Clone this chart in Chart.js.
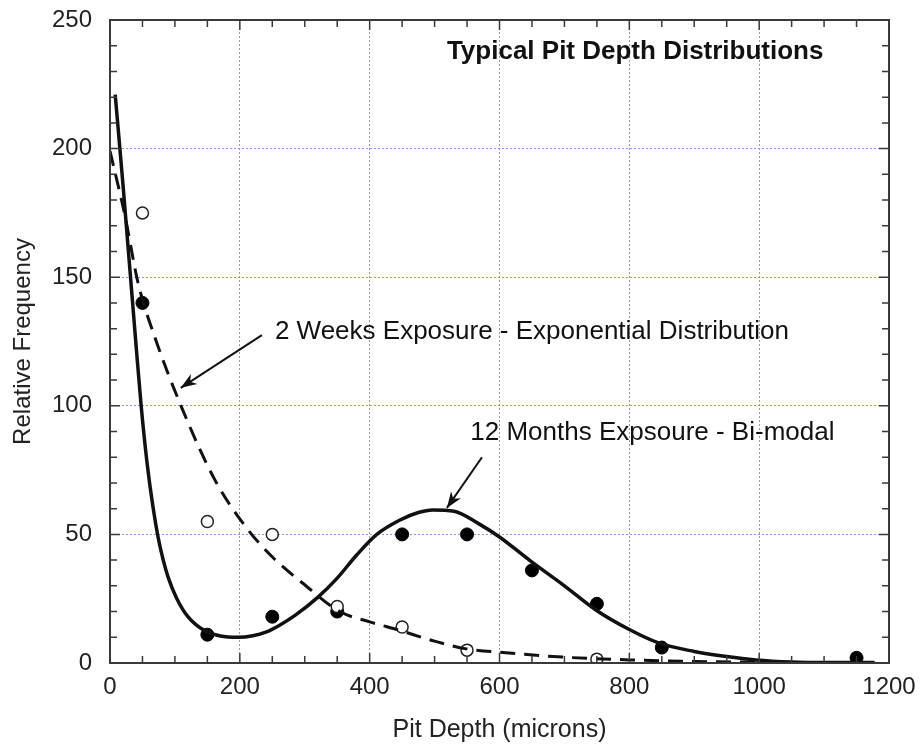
<!DOCTYPE html>
<html>
<head>
<meta charset="utf-8">
<script src="https://cdn.jsdelivr.net/npm/chart.js@4/dist/chart.umd.min.js"></script>
<style>
  html, body { margin: 0; padding: 0; background: #fff; }
  #wrap { width: 921px; height: 747px; }
</style>
</head>
<body>
<div id="wrap"><canvas id="chart" width="921" height="747"></canvas></div>
<script>
// --- data ---
const xTickLabels = [0, 200, 400, 600, 800, 1000, 1200];
const yTickLabels = [0, 50, 100, 150, 200, 250];

// 2 weeks exposure: measured points (open circles) and fitted exponential curve (dashed)
const weeksX = [50, 150, 250, 350, 450, 550, 750];
const weeksY = [175, 55, 50, 22, 14, 5, 1.5];
const expCurveX = [0, 23, 43, 70, 111, 162, 212, 251, 297, 354, 400, 446, 500, 549, 610, 697, 800, 900, 1000, 1100, 1180];
const expCurveY = [199, 174, 148, 126, 99, 71, 52, 41, 31, 20, 16, 12.7, 8.5, 5.5, 4, 2.3, 1.2, 0.6, 0.3, 0.15, 0.1];

// 12 months exposure: measured points (filled circles) and bi-modal curve (solid)
const monthsX = [50, 150, 250, 350, 450, 550, 650, 750, 850, 1150];
const monthsY = [140, 11, 18, 20, 50, 50, 36, 23, 6, 2];
const biCurveX = [8, 20, 30, 40, 48, 57, 66, 74, 82, 90, 103, 120, 146, 170, 197, 220, 240, 260, 285, 320, 350, 380, 411, 446, 475, 497, 530, 569, 600, 646, 700, 749, 800, 846, 900, 950, 995, 1050, 1100, 1177];
const biCurveY = [221, 186, 155, 124, 100, 78, 61, 49, 40, 33, 25, 18, 12.5, 10.5, 10, 10.6, 12, 14.5, 18.5, 25.5, 33, 42, 50, 55.5, 58.5, 59.5, 59, 54, 49, 40, 30, 20.5, 13, 7.7, 4.5, 2.5, 1.2, 0.4, 0.2, 0.2];

const pts = (xs, ys) => xs.map((x, i) => ({ x, y: ys[i] }));

// text labels, anchored in data units
const notes = [
    { text: 'Typical Pit Depth Distributions', x: 519, y: 237.6, bold: true },
    { text: '2 Weeks Exposure - Exponential Distribution', x: 254, y: 128.7 },
    { text: '12 Months Expsoure - Bi-modal', x: 555, y: 89.4 }
];
const arrows = [
    { from: [234, 127.5], to: [109, 107] },
    { from: [573, 80], to: [519, 60.3] }
];

const FONT = '"Liberation Sans", Arial, Helvetica, sans-serif';

// frame, inward tick marks and annotations
const decorations = {
    id: 'decorations',
    afterDraw(chart) {
        const { ctx, chartArea: a, scales: { x, y } } = chart;
        ctx.save();
        ctx.strokeStyle = '#3a3a3a';
        ctx.lineWidth = 1.5;
        x.ticks.forEach(t => {
            const px = x.getPixelForValue(t.value);
            const len = t.value % 200 === 0 ? 10 : 7;
            ctx.beginPath();
            ctx.moveTo(px, a.bottom); ctx.lineTo(px, a.bottom - len);
            ctx.moveTo(px, a.top); ctx.lineTo(px, a.top + len);
            ctx.stroke();
        });
        y.ticks.forEach(t => {
            const py = y.getPixelForValue(t.value);
            const len = t.value % 50 === 0 ? 10 : 7;
            ctx.beginPath();
            ctx.moveTo(a.left, py); ctx.lineTo(a.left + len, py);
            ctx.moveTo(a.right, py); ctx.lineTo(a.right - len, py);
            ctx.stroke();
        });
        ctx.lineWidth = 2;
        ctx.strokeRect(a.left, a.top, a.right - a.left, a.bottom - a.top);

        ctx.fillStyle = '#111';
        ctx.textBaseline = 'middle';
        ctx.textAlign = 'left';
        notes.forEach(n => {
            ctx.font = (n.bold ? 'bold ' : '') + '26px ' + FONT;
            ctx.fillText(n.text, x.getPixelForValue(n.x), y.getPixelForValue(n.y));
        });

        ctx.strokeStyle = '#111';
        ctx.lineWidth = 2;
        arrows.forEach(ar => {
            const x0 = x.getPixelForValue(ar.from[0]), y0 = y.getPixelForValue(ar.from[1]);
            const x1 = x.getPixelForValue(ar.to[0]), y1 = y.getPixelForValue(ar.to[1]);
            const ang = Math.atan2(y1 - y0, x1 - x0);
            ctx.beginPath();
            ctx.moveTo(x0, y0); ctx.lineTo(x1, y1);
            ctx.stroke();
            const L = 16, W = 6;
            const bx = x1 - L * Math.cos(ang), by = y1 - L * Math.sin(ang);
            const nx = -Math.sin(ang), ny = Math.cos(ang);
            ctx.beginPath();
            ctx.moveTo(x1, y1);
            ctx.lineTo(bx + nx * W, by + ny * W);
            ctx.lineTo(x1 - 0.7 * L * Math.cos(ang), y1 - 0.7 * L * Math.sin(ang));
            ctx.lineTo(bx - nx * W, by - ny * W);
            ctx.closePath();
            ctx.fill();
        });
        ctx.restore();
    }
};

const gridFor = labels => ctx => (ctx.tick && labels.includes(ctx.tick.value)) ? '#8c8cff' : 'rgba(0,0,0,0)';

new Chart(document.getElementById('chart'), {
    type: 'scatter',
    data: {
        datasets: [
            {
                label: 'exp fit', type: 'line', data: pts(expCurveX, expCurveY),
                borderColor: '#111', borderWidth: 3, borderDash: [15, 9],
                pointRadius: 0, fill: false, cubicInterpolationMode: 'monotone'
            },
            {
                label: 'bimodal fit', type: 'line', data: pts(biCurveX, biCurveY),
                borderColor: '#111', borderWidth: 3.5,
                pointRadius: 0, fill: false, cubicInterpolationMode: 'monotone'
            },
            {
                label: '2 weeks', data: pts(weeksX, weeksY),
                pointRadius: 6, pointBackgroundColor: '#fff', pointBorderColor: '#222', pointBorderWidth: 1.5
            },
            {
                label: '12 months', data: pts(monthsX, monthsY),
                pointRadius: 6.5, pointBackgroundColor: '#000', pointBorderColor: '#000', pointBorderWidth: 1
            }
        ]
    },
    options: {
        responsive: false,
        animation: false,
        devicePixelRatio: 1,
        layout: { padding: { top: 20, right: 32, left: 0, bottom: 0 } },
        plugins: { legend: { display: false }, tooltip: { enabled: false } },
        scales: {
            x: {
                type: 'linear', min: 0, max: 1200,
                afterFit: s => { s.height = 84; s.paddingLeft = 0; s.paddingRight = 0; },
                ticks: {
                    stepSize: 50, autoSkip: false, maxRotation: 0, padding: 10,
                    color: '#222', font: { family: FONT, size: 24 },
                    callback: v => xTickLabels.includes(v) ? String(v) : ''
                },
                grid: { color: gridFor(xTickLabels), lineWidth: 1, drawTicks: false },
                border: { display: false, dash: [2, 2] },
                title: {
                    display: true, text: 'Pit Depth (microns)', color: '#222',
                    font: { family: FONT, size: 25 }, padding: { top: 0, bottom: 2 }
                }
            },
            y: {
                type: 'linear', min: 0, max: 250,
                afterFit: s => { s.width = 110; s.paddingTop = 0; s.paddingBottom = 0; },
                ticks: {
                    stepSize: 10, autoSkip: false, padding: 18,
                    color: '#222', font: { family: FONT, size: 24 },
                    callback: v => yTickLabels.includes(v) ? String(v) : ''
                },
                grid: { color: gridFor(yTickLabels), lineWidth: 1, drawTicks: false },
                border: { display: false, dash: [2, 2] },
                title: {
                    display: true, text: 'Relative Frequency', color: '#222',
                    font: { family: FONT, size: 24 }, padding: { top: 9, bottom: 0 }
                }
            }
        }
    },
    plugins: [decorations]
});
</script>
</body>
</html>
